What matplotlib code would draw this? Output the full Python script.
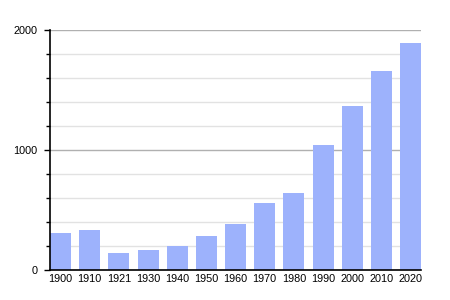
import matplotlib
matplotlib.use('Agg')
import matplotlib.pyplot as plt
from matplotlib.ticker import MultipleLocator

years = ['1900', '1910', '1921', '1930', '1940', '1950', '1960',
         '1970', '1980', '1990', '2000', '2010', '2020']
population = [306, 333, 139, 167, 200, 283, 383, 561, 642, 1042, 1367, 1658, 1892]

plt.rcParams['font.family'] = ['Liberation Sans', 'DejaVu Sans']

fig = plt.figure(figsize=(4.5, 3), dpi=100)
ax = fig.add_axes([50/450, 0.1, 371/450, 0.8])

x = range(len(years))
ax.bar(x, population, width=0.72, color='#9db2fc', zorder=3)

ax.set_xlim(-0.36, len(years) - 1 + 0.36)
ax.set_ylim(0, 2000)
ax.set_xticks(list(x))
ax.set_xticklabels(years)
ax.yaxis.set_major_locator(MultipleLocator(1000))
ax.yaxis.set_minor_locator(MultipleLocator(200))

ax.grid(axis='y', which='major', color='#b0b0b0', linewidth=1, zorder=1)
ax.grid(axis='y', which='minor', color='#e2e2e2', linewidth=1, zorder=1)

for s in ['top', 'right']:
    ax.spines[s].set_visible(False)
ax.spines['left'].set_linewidth(1.2)
ax.spines['bottom'].set_linewidth(1.2)
ax.spines['left'].set_zorder(4)
ax.spines['bottom'].set_zorder(4)

ax.tick_params(axis='x', length=0, pad=3, labelsize=7.8)
ax.tick_params(axis='y', which='major', length=4, width=1, pad=5, labelsize=7.8)
ax.tick_params(axis='y', which='minor', length=3, width=1)

fig.savefig('out.png', dpi=100)
